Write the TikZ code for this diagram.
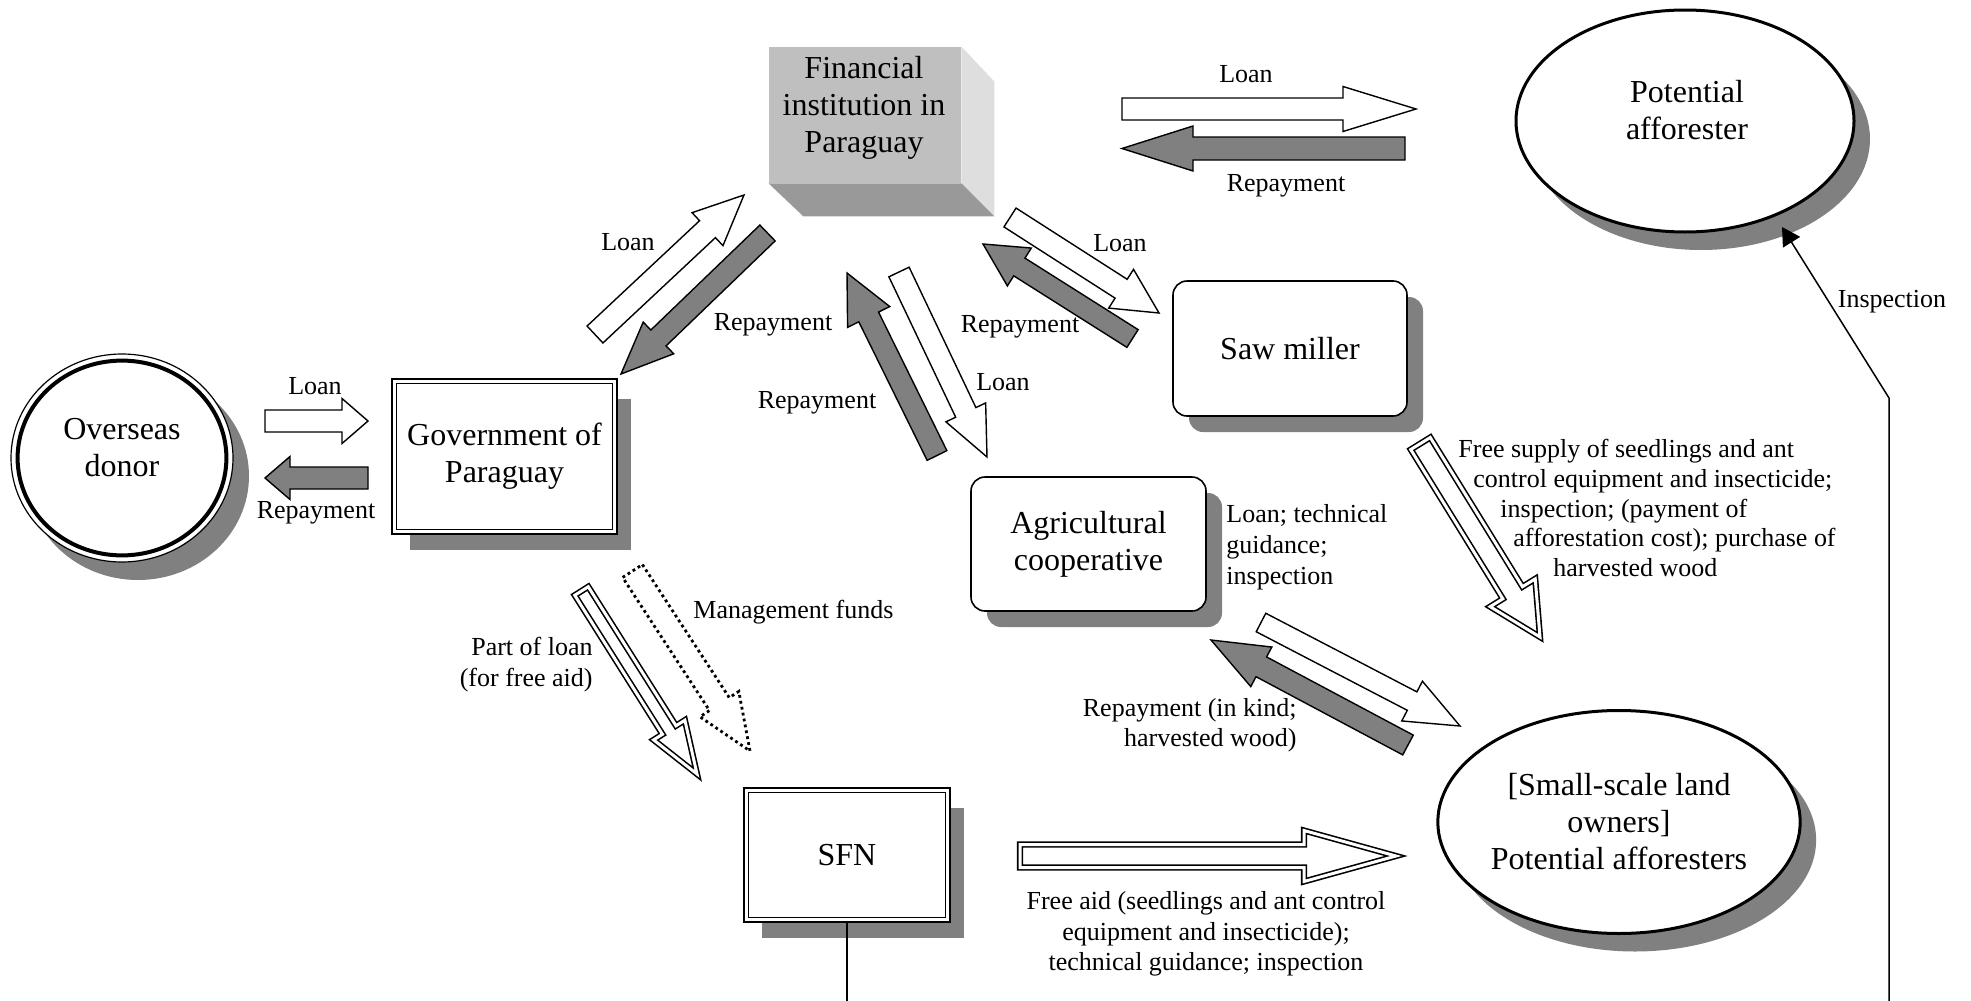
\documentclass[tikz,border=0pt]{standalone}
\usepackage{fontspec}
\setmainfont{Liberation Serif}
\usepackage{tikz}
\usetikzlibrary{shapes.geometric,shadows,calc,arrows.meta}
\definecolor{shadowgray}{rgb}{0.5,0.5,0.5}
\definecolor{boxface}{rgb}{0.75,0.75,0.75}
\definecolor{boxside}{rgb}{0.87,0.87,0.87}
\definecolor{boxbottom}{rgb}{0.6,0.6,0.6}

% fat flow arrow: [style]{tail}{tip}{half shaft}{half head}{head length}
\newcommand{\flowarrow}[6][]{%
  \path ($(#3)!#6!(#2)$) coordinate (hb);
  \draw[#1] ($(#2)!#4!90:(#3)$) -- ($(hb)!#4!90:(#3)$) -- ($(hb)!#5!90:(#3)$) -- (#3)
    -- ($(hb)!#5!-90:(#3)$) -- ($(hb)!#4!-90:(#3)$) -- ($(#2)!#4!-90:(#3)$) -- cycle;
}

\begin{document}
\begin{tikzpicture}[x=0.5pt, y=-0.5pt,
  txt/.style={font=\fontsize{16}{18.5}\selectfont, align=center},
  lbl/.style={font=\fontsize{13}{15.5}\selectfont, inner sep=0pt},
  shadowed/.style={drop shadow={shadow xshift=8pt, shadow yshift=-9pt, fill=shadowgray, opacity=1}},
  dblbox/.style={rectangle, draw, line width=0.9pt, double=white, double distance=1.4pt, fill=white, shadowed, txt},
  roundbox/.style={rectangle, rounded corners=7pt, draw, line width=0.8pt, fill=white,
    drop shadow={shadow xshift=8pt, shadow yshift=-8pt, fill=shadowgray, opacity=1}, txt},
  oval/.style={ellipse, draw, line width=1.5pt, fill=white, inner sep=0pt, shadowed, txt},
  loanarr/.style={draw, fill=white, line width=0.7pt, line join=miter},
  repayarr/.style={draw, fill=shadowgray, line width=0.7pt, line join=miter},
  aidarr/.style={draw, fill=white, line width=0.8pt, double=white, double distance=1.5pt, line join=miter},
  fundsarr/.style={draw, fill=white, line width=1.4pt, dash pattern=on 1.4pt off 1.6pt},
  insparr/.style={line width=0.75pt, -{Triangle[length=9pt, width=10pt]}}]
  \useasboundingbox (0,0) rectangle (1971,1001);

  % actors
  \node[ellipse, draw, line width=0.6pt, fill=white, inner sep=0pt, minimum width=111pt, minimum height=104pt, shadowed] (donor) at (122,458) {};
  \draw[line width=2pt] (donor.center) ellipse [x radius=52.2pt, y radius=48.7pt];
  \node[txt] (donortext) at (122,448) {Overseas\\donor};
  \node[dblbox, minimum width=110.3pt, minimum height=75.3pt] (gov) at (504.5,456.5) {Government of\\Paraguay};
  \node[dblbox, minimum width=100.8pt, minimum height=64.8pt] (sfn) at (847,855) {SFN};
  \node[roundbox, minimum width=117pt, minimum height=67.5pt] (saw) at (1290,348.5) {Saw miller};
  \node[roundbox, minimum width=117.5pt, minimum height=67pt] (coop) at (1088.5,544) {Agricultural\\cooperative};
  \node[oval, minimum width=169pt, minimum height=111pt] (pa) at (1685,121) {};
  \node[txt] (patext) at (1687,110) {Potential\\afforester};
  \node[oval, minimum width=168pt, minimum height=111.5pt] (owners) at (1619,822) {[Small-scale land\\owners]\\Potential afforesters};

  % financial institution as a block
  \node[rectangle, fill=boxface, inner sep=0pt, minimum width=96pt, minimum height=68pt] (fin) at (865,115) {};
  \fill[boxside] (fin.north east) -- ++(33,35) -- ++(0,134) -- (fin.south east) -- cycle;
  \fill[boxbottom] (fin.south west) -- (fin.south east) -- ++(33,33) -- ++(-191,0) -- cycle;
  \node[txt] (fintext) at (864,108) {Financial\\institution in\\Paraguay};

  % arrow ends
  \coordinate (dgL1) at (265,421);     \coordinate (dgL2) at (368,421);
  \coordinate (dgR1) at (368,478);     \coordinate (dgR2) at (265,478);
  \coordinate (fpL1) at (1122,109);    \coordinate (fpL2) at (1416,109);
  \coordinate (fpR1) at (1405,148.5);  \coordinate (fpR2) at (1122,148.5);
  \coordinate (gfL1) at (595,334.5);   \coordinate (gfL2) at (744,195);
  \coordinate (gfR1) at (767.5,233);   \coordinate (gfR2) at (621,374);
  \coordinate (cfR1) at (937,455.5);   \coordinate (cfR2) at (847,273);
  \coordinate (cfL1) at (899,272);     \coordinate (cfL2) at (987,457);
  \coordinate (fsL1) at (1010,217.5);  \coordinate (fsL2) at (1159,313);
  \coordinate (fsR1) at (1132.5,338.5);\coordinate (fsR2) at (983,244);
  \coordinate (coL1) at (1261,622.5);  \coordinate (coL2) at (1460,726);
  \coordinate (coR1) at (1408,745);    \coordinate (coR2) at (1211,640);
  \coordinate (soA1) at (1420.5,443.5);\coordinate (soA2) at (1540,637);
  \coordinate (gsA1) at (581.5,591);   \coordinate (gsA2) at (697,774);
  \coordinate (gsM1) at (632.5,571);   \coordinate (gsM2) at (750,751);
  \coordinate (sfA1) at (1020,856);    \coordinate (sfA2) at (1396,856);

  \flowarrow[loanarr]{dgL1}{dgL2}{5.5pt}{11.25pt}{13pt}
  \flowarrow[repayarr]{dgR1}{dgR2}{5.5pt}{10.75pt}{12.5pt}
  \flowarrow[loanarr]{fpL1}{fpL2}{5.5pt}{11.25pt}{36.5pt}
  \flowarrow[repayarr]{fpR1}{fpR2}{5.75pt}{11.25pt}{35.5pt}
  \flowarrow[loanarr]{gfL1}{gfL2}{5.8pt}{11.3pt}{25pt}
  \flowarrow[repayarr]{gfR1}{gfR2}{5.5pt}{11pt}{26pt}
  \flowarrow[repayarr]{cfR1}{cfR2}{5.5pt}{11.75pt}{24.5pt}
  \flowarrow[loanarr]{cfL1}{cfL2}{5.6pt}{11pt}{24.7pt}
  \flowarrow[loanarr]{fsL1}{fsL2}{5.6pt}{11.5pt}{22.5pt}
  \flowarrow[repayarr]{fsR1}{fsR2}{5.25pt}{11.2pt}{21.5pt}
  \flowarrow[loanarr]{coL1}{coL2}{5.2pt}{11.2pt}{27pt}
  \flowarrow[repayarr]{coR1}{coR2}{5.6pt}{11.2pt}{28.5pt}
  \flowarrow[aidarr]{soA1}{soA2}{5.75pt}{13.25pt}{26pt}
  \flowarrow[aidarr]{gsA1}{gsA2}{4pt}{9.25pt}{26pt}
  \flowarrow[fundsarr]{gsM1}{gsM2}{5.9pt}{11.6pt}{28pt}
  \flowarrow[aidarr]{sfA1}{sfA2}{5.75pt}{12.75pt}{46pt}

  % thin lines
  \coordinate (inspbot) at (1889,1001);
  \coordinate (inspbend) at (1889,398);
  \coordinate (insptip) at (1782,227);
  \draw[insparr] (inspbot) -- (inspbend) -- (insptip);
  \draw[line width=0.75pt] (sfn.south) -- (sfn.south |- inspbot);

  % labels
  \node[lbl] (lbdgl) at (315,386) {Loan};
  \node[lbl] (lbdgr) at (316,513) {Repayment};
  \node[lbl] (lbgfl) at (628,242) {Loan};
  \node[lbl] (lbgfr) at (773,325) {Repayment};
  \node[lbl] (lbcfr) at (817,403) {Repayment};
  \node[lbl] (lbcfl) at (1003,382) {Loan};
  \node[lbl] (lbfsl) at (1120,243) {Loan};
  \node[lbl] (lbfsr) at (1020,327) {Repayment};
  \node[lbl] (lbfpl) at (1246,74) {Loan};
  \node[lbl] (lbfpr) at (1286,186) {Repayment};
  \node[lbl] (lbinsp) at (1892,302) {Inspection};
  \node[lbl, font=\fontsize{13}{14.8}\selectfont, align=left, anchor=west] (lbsupply) at (1458,508)
    {Free supply of seedlings and ant\\\hspace*{7.5pt}control equipment and insecticide;\\\hspace*{21pt}inspection; (payment of\\\hspace*{27.5pt}afforestation cost); purchase of\\\hspace*{47.5pt}harvested wood};
  \node[lbl, align=left, anchor=west] (lbcoop) at (1226,547) {Loan; technical\\guidance;\\inspection};
  \node[lbl, font=\fontsize{13}{15}\selectfont, align=right, anchor=east] (lbkind) at (1297,725) {Repayment (in kind;\\harvested wood)};
  \node[lbl, anchor=west] (lbfunds) at (693,612) {Management funds};
  \node[lbl, align=right, anchor=east] (lbpart) at (593,665) {Part of loan\\(for free aid)};
  \node[lbl, font=\fontsize{13}{15.2}\selectfont, align=center] (lbaid) at (1206,934) {Free aid (seedlings and ant control\\equipment and insecticide);\\technical guidance; inspection};
\end{tikzpicture}
\end{document}
